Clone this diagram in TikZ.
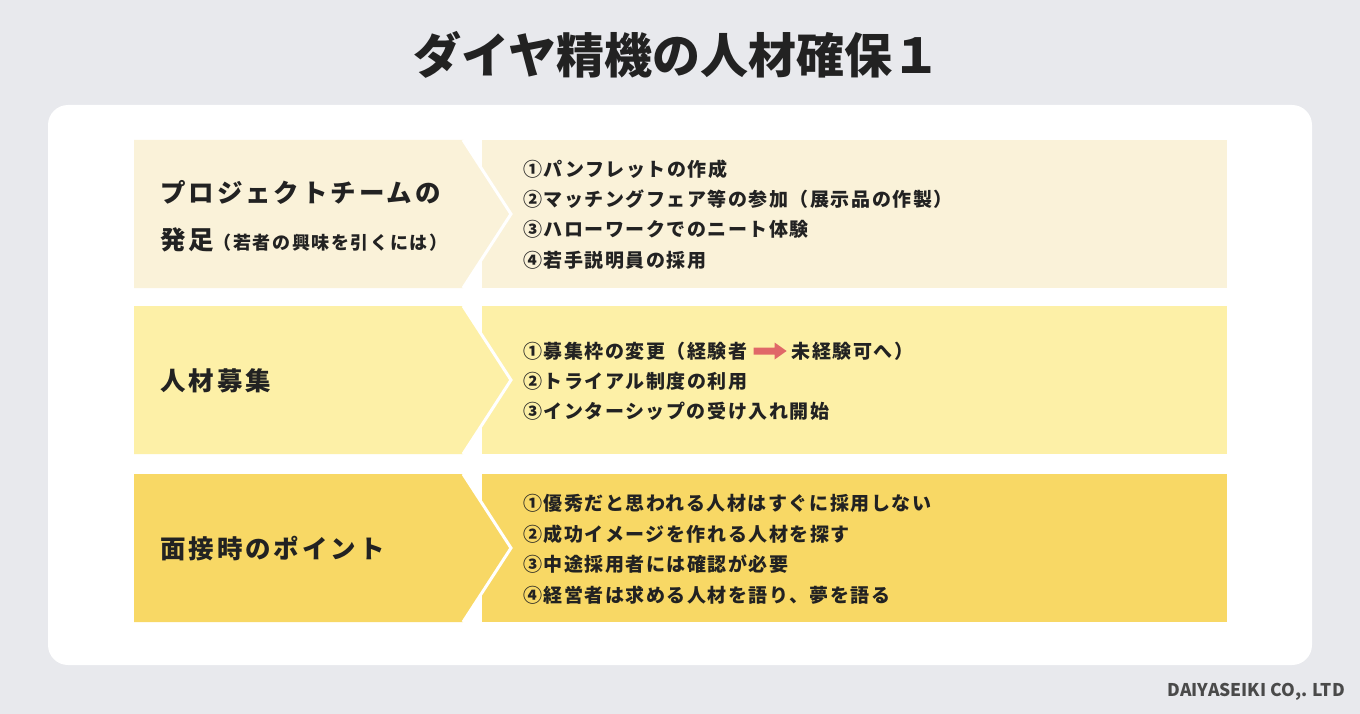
\documentclass[tikz,border=0pt]{standalone}
\usepackage{fontspec}
\setmainfont{Noto Sans CJK JP}
\newfontfamily\jp{Noto Sans CJK JP}
\newfontfamily\jpS{Noto Sans CJK JP}[LetterSpace=8]
\newfontfamily\jpM{Noto Sans CJK JP}[LetterSpace=9]
\newfontfamily\jpL{Noto Sans CJK JP}[LetterSpace=11.5]
\definecolor{bgc}{HTML}{E8E9ED}
\definecolor{rowa}{HTML}{FAF2D9}
\definecolor{rowb}{HTML}{FDF0A7}
\definecolor{rowc}{HTML}{F8D865}
\definecolor{txt}{HTML}{222222}
\definecolor{redc}{HTML}{E06868}
\definecolor{foot}{HTML}{4A4A4A}
\tikzset{
  item/.style={anchor=west, inner sep=0pt, text=txt, font=\jpS\bfseries\fontsize{19}{22}\selectfont},
  label/.style={anchor=west, inner sep=0pt, text=txt, font=\jpL\bfseries\fontsize{25.5}{28}\selectfont},
  sublabel/.style={anchor=base west, inner sep=0pt, text=txt, font=\jpM\bfseries\fontsize{18}{20}\selectfont},
  chev/.style={draw=white, line width=3pt}
}
\begin{document}
\begin{tikzpicture}[x=1pt,y=-1pt]
\fill[bgc] (0,0) rectangle (1360,714);
\useasboundingbox (0,0) rectangle (1360,714);
\fill[white, rounded corners=20pt] (48,105) rectangle (1312,665);
\node[text=txt, font=\jp\bfseries\fontsize{48}{52}\selectfont, inner sep=0pt] (title) at (677,55) {ダイヤ精機の人材確保１};
% row 1
\fill[rowa] (482,140) rectangle (1227,288);
\fill[rowa] (134,140) -- (463,140) -- (511,214) -- (463,288) -- (134,288) -- cycle;
\draw[chev] (463,140) -- (511,214) -- (463,288);
% row 2
\fill[rowb] (482,306) rectangle (1227,454);
\fill[rowb] (134,306) -- (463,306) -- (511,380) -- (463,454) -- (134,454) -- cycle;
\draw[chev] (463,306) -- (511,380) -- (463,454);
% row 3
\fill[rowc] (482,474) rectangle (1227,622);
\fill[rowc] (134,474) -- (463,474) -- (511,548) -- (463,622) -- (134,622) -- cycle;
\draw[chev] (463,474) -- (511,548) -- (463,622);
% left labels
\node[label] (l1a) at (160,192) {プロジェクトチームの};
\node[label] (l1b) at (160,240) {発足};
\node[sublabel] (l1c) at ([xshift=-1pt]l1b.base east) {（若者の興味を引くには）};
\node[label] (l2) at (160,381) {人材募集};
\node[label] (l3) at (160,549) {面接時のポイント};
% row 1 items
\node[item] (a1) at (523,169) {①パンフレットの作成};
\node[item] (a2) at (523,199) {②マッチングフェア等の参加（展示品の作製）};
\node[item] (a3) at (523,229) {③ハローワークでのニート体験};
\node[item] (a4) at (523,260) {④若手説明員の採用};
% row 2 items
\node[item] (b1) at (523,351) {①募集枠の変更（経験者};
\fill[redc] ([xshift=6pt,yshift=3.5pt]b1.east) -- ++(21,0) -- ++(0,-5) -- ++(12,8.5) -- ++(-12,8.5) -- ++(0,-5) -- ++(-21,0) -- cycle;
\node[item] (b1b) at ([xshift=44pt]b1.east) {未経験可へ）};
\node[item] (b2) at (523,381) {②トライアル制度の利用};
\node[item] (b3) at (523,411) {③インターシップの受け入れ開始};
% row 3 items
\node[item] (c1) at (523,503) {①優秀だと思われる人材はすぐに採用しない};
\node[item] (c2) at (523,534) {②成功イメージを作れる人材を探す};
\node[item] (c3) at (523,564) {③中途採用者には確認が必要};
\node[item] (c4) at (523,595) {④経営者は求める人材を語り、夢を語る};
% footer
\node[anchor=east, inner sep=0pt, text=foot, font=\jp\bfseries\fontsize{17.5}{20}\selectfont] (foot) at (1345,692) {DAIYASEIKI CO,. LTD};
\end{tikzpicture}
\end{document}
